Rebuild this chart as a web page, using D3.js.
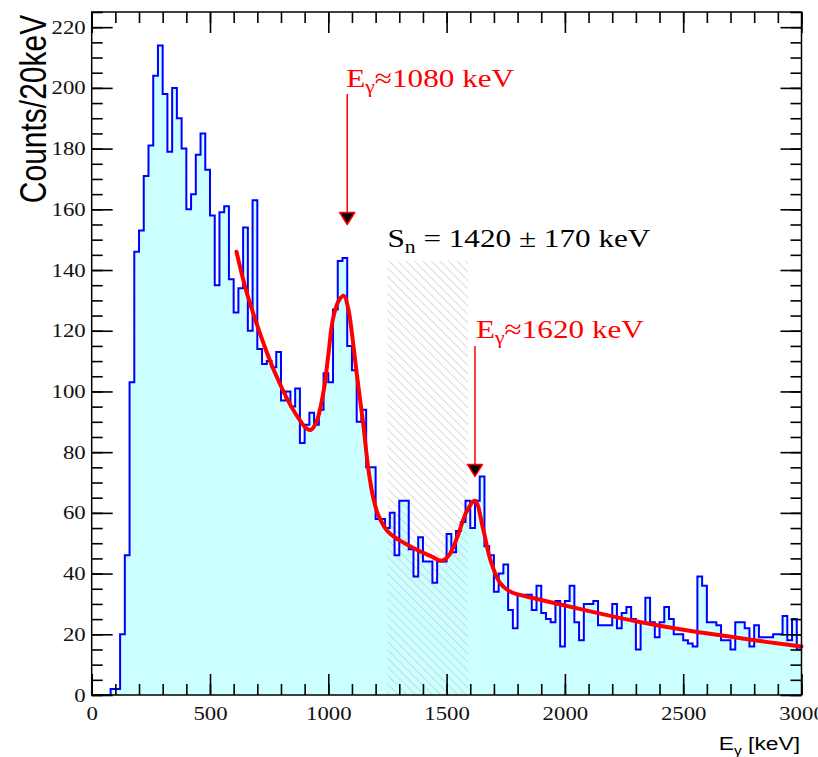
<!DOCTYPE html>
<html><head><meta charset="utf-8">
<script src="https://cdn.jsdelivr.net/npm/d3@7"></script>
<style>body{margin:0;background:#fff}svg{display:block}</style>
</head><body><svg id="c" width="818" height="757"></svg>
<script>
// ---- data ----
const binWidth = 20; // keV
const binCounts = [
  0,0,0,0,2,2,20,46,103,146,
  153,171,181,204,214,198,179,200,190,180,
  160,165,178,185,173,158,135,159,161,137,
  126,134,154,120,163,114,109,110,108,113,
  97,100,95,101,83,89,93,89,94,106,
  103,127,143,144,115,107,90,94,75,75,
  58,58,55,60,46,64,64,48,39,52,
  44,44,37,44,44,53,47,54,57,64,
  55,64,72,49,46,34,40,43,28,22,
  33,33,33,28,36,27,25,24,31,16,
  31,36,24,18,30,30,31,23,23,23,
  30,22,27,29,25,15,24,32,24,19,
  24,29,25,20,20,18,17,16,39,36,
  24,24,23,18,18,15,24,24,22,16,
  23,19,19,19,20,20,26,18,25,15
];
const fitEnergy = [612,650,690,730,770,840,880,905,925,950,980,1000,1020,1045,1066,1085,1100,1120,1148,1170,1190,1210,1250,1300,1370,1440,1480,1510,1545,1585,1620,1655,1685,1725,1770,1850,1900,2000,2150,2300,2500,2700,2850,3000];
const fitCounts = [146,134,124,115,107,95.5,90.5,88,87.3,90,100,112,124,130,131.5,127,119,106,89,74,65,59.5,54,51,48,45.5,44.2,46,52,60.5,64,54.5,44.5,37,34,32.2,31.3,29.5,26.8,24.3,21.5,19.2,17.5,16];
const xMajorTicks = [0,500,1000,1500,2000,2500,3000];
const yMajorTicks = [0,20,40,60,80,100,120,140,160,180,200,220];
const snRange = [1250, 1590];
const snTop = 143;
const peaks = [
  {e:1080, tip:155, top:198, label:"1080"},
  {e:1620, tip:72, top:115, label:"1620"}
];

// ---- layout ----
const svg = d3.select("#c");
const X0 = 91.7, X1 = 801.5, Y0 = 695, Y1 = 12;
const x = d3.scaleLinear().domain([0,3000]).range([X0,X1]);
const y = d3.scaleLinear().domain([0,225]).range([Y0,Y1]);
const SX = 1.2; // horizontal stretch of the original figure's text

// hatch pattern
const defs = svg.append("defs");
const pat = defs.append("pattern").attr("id","hatch").attr("patternUnits","userSpaceOnUse")
  .attr("width",6).attr("height",6).attr("patternTransform","rotate(-45)");
pat.append("line").attr("x1",0).attr("y1",0).attr("x2",0).attr("y2",6)
  .attr("stroke","#bdbdbd").attr("stroke-width",1.1);

const pts = binCounts.map((c,i)=>[i*binWidth,c]);
pts.push([binCounts.length*binWidth, binCounts[binCounts.length-1]]);

// histogram fill
svg.append("path").datum(pts)
  .attr("d", d3.area().curve(d3.curveStepAfter).x(d=>x(d[0])).y0(y(0)).y1(d=>y(d[1])))
  .attr("fill","#ccffff");

// Sn hatched band
svg.append("rect").attr("x",x(snRange[0])).attr("width",x(snRange[1])-x(snRange[0]))
  .attr("y",y(snTop)).attr("height",y(0)-y(snTop)).attr("fill","url(#hatch)");

// histogram outline
svg.append("path").datum(pts)
  .attr("d", d3.line().curve(d3.curveStepAfter).x(d=>x(d[0])).y(d=>y(d[1])))
  .attr("fill","none").attr("stroke","#0000ff").attr("stroke-width",2);

// fit curve
svg.append("path").datum(fitEnergy.map((e,i)=>[e,fitCounts[i]]))
  .attr("d", d3.line().curve(d3.curveCatmullRom.alpha(0.5)).x(d=>x(d[0])).y(d=>y(d[1])))
  .attr("fill","none").attr("stroke","#ff0000").attr("stroke-width",4).attr("stroke-linecap","round");

// arrows
peaks.forEach(p=>{
  const px = x(p.e);
  svg.append("line").attr("x1",px).attr("x2",px).attr("y1",y(p.top)).attr("y2",y(p.tip)-12)
    .attr("stroke","#ff0000").attr("stroke-width",1.5);
  const t = y(p.tip);
  svg.append("path").attr("d",`M${px-7.5},${t-12}L${px+7.5},${t-12}L${px},${t}Z`)
    .attr("fill","#000").attr("stroke","#ff0000").attr("stroke-width",1.5).attr("stroke-linejoin","round");
});

// axes ticks (ROOT style, inward on all four sides)
function styleAxis(g){ g.select(".domain").remove(); g.selectAll("line").attr("stroke","#000").attr("stroke-width",1.6); }
const minorX = d3.range(0,3001,100), minorY = d3.range(0,226,5);
svg.append("g").attr("transform",`translate(0,${Y0})`)
  .call(d3.axisBottom(x).tickValues(minorX).tickSize(-11).tickFormat("")).call(styleAxis);
svg.append("g").attr("transform",`translate(0,${Y1})`)
  .call(d3.axisTop(x).tickValues(minorX).tickSize(-11).tickFormat("")).call(styleAxis);
svg.append("g").attr("transform",`translate(0,${Y1})`)
  .call(d3.axisTop(x).tickValues(xMajorTicks).tickSize(-21).tickFormat("")).call(styleAxis);
svg.append("g").attr("transform",`translate(${X0},0)`)
  .call(d3.axisLeft(y).tickValues(minorY).tickSize(-11).tickFormat("")).call(styleAxis);
svg.append("g").attr("transform",`translate(${X1},0)`)
  .call(d3.axisRight(y).tickValues(minorY).tickSize(-11).tickFormat("")).call(styleAxis);
svg.append("g").attr("transform",`translate(${X1},0)`)
  .call(d3.axisRight(y).tickValues(yMajorTicks).tickSize(-21).tickFormat("")).call(styleAxis);

const gxb = svg.append("g").attr("transform",`translate(0,${Y0})`)
  .call(d3.axisBottom(x).tickValues(xMajorTicks).tickSize(-21).tickPadding(12).tickFormat(d3.format("d")));
styleAxis(gxb);
gxb.selectAll("text").attr("font-family","'Liberation Serif',serif").attr("font-size",19)
  .attr("fill","#111").attr("transform",`scale(${SX},1)`);
const gyl = svg.append("g").attr("transform",`translate(${X0},0)`)
  .call(d3.axisLeft(y).tickValues(yMajorTicks).tickSize(-21).tickPadding(5).tickFormat(d3.format("d")));
styleAxis(gyl);
gyl.selectAll("text").attr("font-family","'Liberation Serif',serif").attr("font-size",19)
  .attr("fill","#111").attr("transform",`scale(${SX},1)`);

// frame
svg.append("rect").attr("x",X0).attr("y",Y1).attr("width",X1-X0).attr("height",Y0-Y1)
  .attr("fill","none").attr("stroke","#000").attr("stroke-width",1.5);

// axis titles
svg.append("text").attr("transform",`translate(46,109) scale(${SX},1) rotate(-90)`)
  .attr("text-anchor","middle").attr("font-family","'Liberation Sans',Arial,sans-serif")
  .attr("font-size",30).attr("fill","#000").text("Counts/20keV");
const xt = svg.append("text").attr("transform",`translate(800,750) scale(${SX},1)`)
  .attr("text-anchor","end").attr("font-family","'Liberation Sans',Arial,sans-serif")
  .attr("font-size",19).attr("fill","#000");
xt.append("tspan").text("E");
xt.append("tspan").attr("font-size",13).attr("dy",5).text("γ");
xt.append("tspan").attr("dy",-5).text(" [keV]");

// annotations
function peakLabel(px, py, val){
  const t = svg.append("text").attr("transform",`translate(${px},${py}) scale(${SX},1)`)
    .attr("font-family","'Liberation Serif',serif").attr("font-size",26).attr("fill","#ff0000");
  t.append("tspan").text("E");
  t.append("tspan").attr("font-size",18).attr("dy",6).text("γ");
  t.append("tspan").attr("dy",-6).text("≈"+val+" keV");
}
peakLabel(x(peaks[0].e)-1, 87, peaks[0].label);
peakLabel(x(peaks[1].e)+1, 338, peaks[1].label);

const sn = svg.append("text").attr("transform",`translate(${x(snRange[0])},247) scale(${SX},1)`)
  .attr("font-family","'Liberation Serif',serif").attr("font-size",26).attr("fill","#000");
sn.append("tspan").text("S");
sn.append("tspan").attr("font-size",18).attr("dy",6).text("n");
sn.append("tspan").attr("dy",-6).text(" = 1420 ± 170 keV");
</script></body></html>
